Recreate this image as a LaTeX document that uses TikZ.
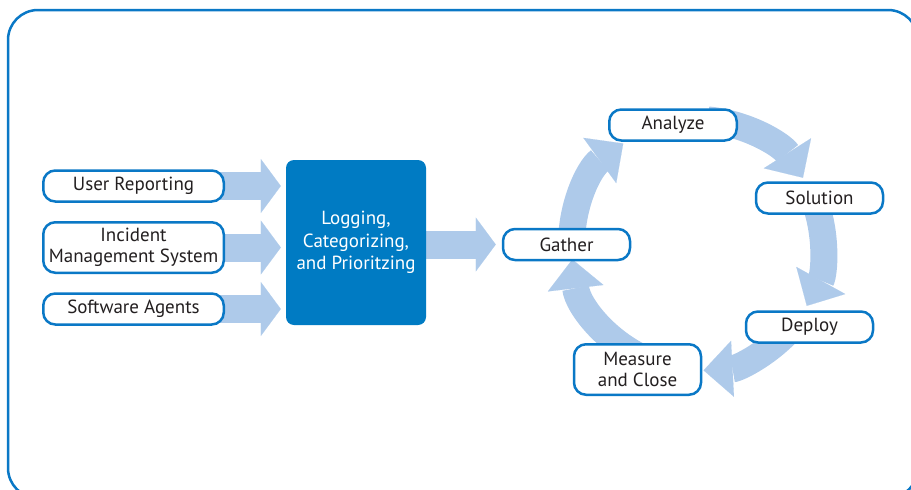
\documentclass[tikz,border=0pt]{standalone}
\usepackage{fontspec}
\setmainfont{PT Sans}
\usetikzlibrary{arrows.meta,backgrounds,calc}
\definecolor{edgeblue}{HTML}{0A78C6}
\definecolor{coreblue}{HTML}{007BC3}
\definecolor{flowblue}{HTML}{AECAEA}
\definecolor{ink}{HTML}{231F20}
\begin{document}
\begin{tikzpicture}[x=1pt,y=-1pt,
  every node/.style={font=\fontsize{19}{21}\selectfont, text=ink},
  pill/.style={draw=edgeblue, line width=2.5pt, fill=white, rounded corners=12pt,
    align=center, inner sep=0pt, minimum height=31pt, minimum width=#1},
  core/.style={fill=coreblue, rounded corners=8pt, minimum width=140pt,
    minimum height=165pt, text=white, align=center,
    font=\fontsize{19}{22.5}\selectfont},
  feed/.style={draw=flowblue, line width=28pt,
    -{Triangle[width=54pt,length=20pt,line width=0.1pt]}},
  loop/.style={draw=flowblue, line width=27pt,
    -{Triangle[width=56pt,length=29pt,line width=0.1pt]}},
  frame/.style={draw=edgeblue, line width=2.5pt, rounded corners=30pt}
]
\path[use as bounding box] (0,0) rectangle (911,490);
\clip (0,0) rectangle (911,490);

% sources
\node[pill=180.5pt] (user) at (133.5,186) {User Reporting};
\node[pill=180.5pt, minimum height=50.5pt] (ims) at (133.5,247.5) {Incident\\Management System};
\node[pill=180.5pt] (agents) at (133.5,309) {Software Agents};

% central processing step
\node[core] (core) at (356,242.5) {Logging,\\Categorizing,\\and Prioritzing};

% resolution cycle
\node[pill=127.5pt] (analyze) at (673,125) {Analyze};
\node[pill=127pt] (solution) at (819.5,198) {Solution};
\node[pill=127pt] (deploy) at (809.5,327) {Deploy};
\node[pill=127pt, minimum height=50.5pt] (measure) at (637.5,369.5) {Measure\\and Close};
\node[pill=127pt] (gather) at (566.5,244.5) {Gather};
\coordinate (hub) at (697,245);

\begin{pgfonlayer}{background}
  \draw[frame] (8,10) rectangle (918,498);
  % inputs feeding the central step
  \draw[feed] ([xshift=-12pt]user.east) -- ([xshift=-5pt]core.west |- user.east);
  \draw[feed] ([xshift=-12pt]ims.east) -- ([xshift=-5pt]core.west |- ims.east);
  \draw[feed] ([xshift=-12pt]agents.east) -- ([xshift=-5pt]core.west |- agents.east);
  \draw[feed] (core.east |- gather.west) -- ([xshift=-6pt]gather.west);
  % clockwise loop
  \draw[loop] ([shift={(175:125.5)}]hub) arc[start angle=175, end angle=234, radius=125.5];
  \draw[loop] ([shift={(275:125.5)}]hub) arc[start angle=275, end angle=327.6, radius=125.5];
  \draw[loop] ([shift={(-20:125.5)}]hub) arc[start angle=-20, end angle=29, radius=125.5];
  \draw[loop] ([shift={(40:125.5)}]hub) arc[start angle=40, end angle=87, radius=125.5];
  \draw[loop] ([shift={(110:125.5)}]hub) arc[start angle=110, end angle=173.4, radius=125.5];
\end{pgfonlayer}
\end{tikzpicture}
\end{document}
